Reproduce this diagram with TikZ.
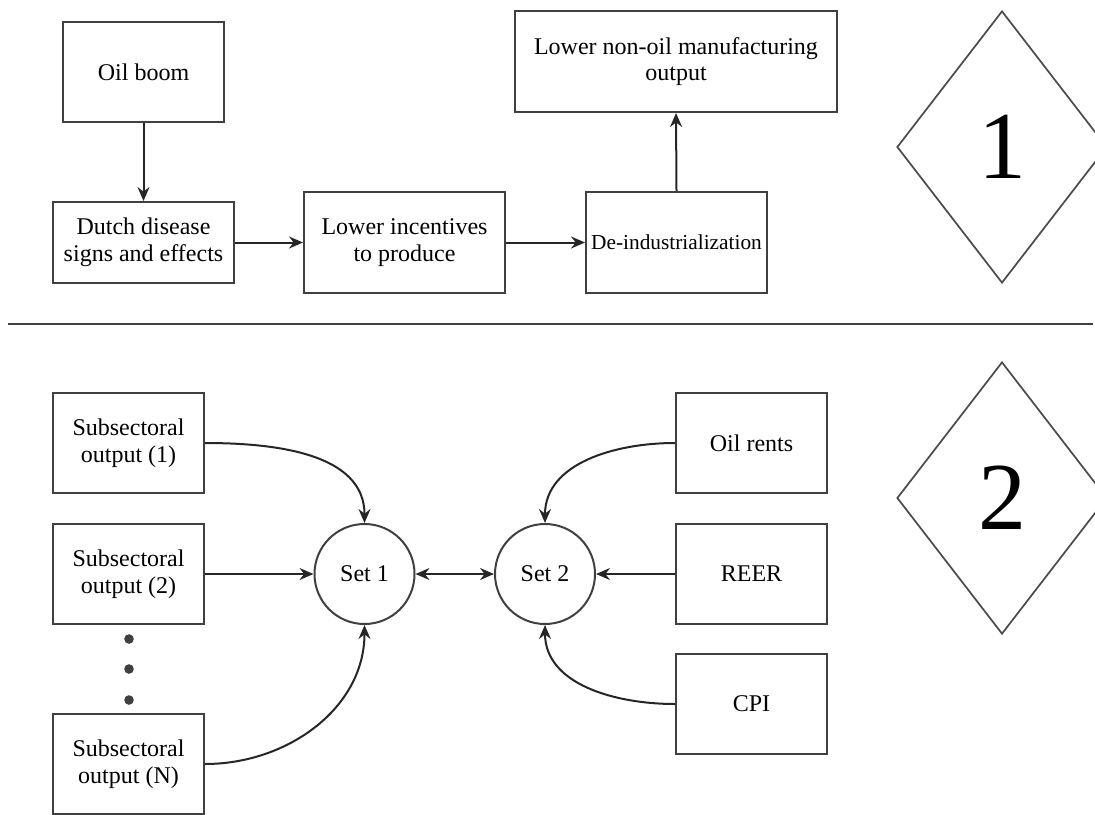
\documentclass[tikz,border=0pt]{standalone}
\usepackage{fontspec}
\setmainfont{Liberation Serif}
\usetikzlibrary{arrows.meta,shapes.geometric}

\begin{document}
\begin{tikzpicture}[x=0.75pt,y=0.75pt,
    line width=1.5pt,
    every node/.style={font=\fontsize{18}{20}\selectfont,align=center,inner sep=0pt},
    box/.style={draw=black!75,rectangle},
    setnode/.style={draw=black!75,circle,minimum size=75pt},
    bignum/.style={draw=black!70,line width=1.3pt,diamond,minimum width=157.5pt,minimum height=204pt,font=\fontsize{72}{72}\selectfont},
    arr/.style={draw=black!85,-{Stealth[length=10.5pt,width=9pt,inset=3.5pt]}},
    dblarr/.style={draw=black!85,{Stealth[length=10.5pt,width=9pt,inset=3.5pt]}-{Stealth[length=10.5pt,width=9pt,inset=3.5pt]}}]
  \useasboundingbox (0,0) rectangle (1095,-814);

  \node [box,minimum width=120.75pt,minimum height=75pt] (boom) at (143.5,-72) {Oil boom};
  \node [box,minimum width=135.75pt,minimum height=60.75pt] (dutch) at (143.5,-242.5) {Dutch disease\\signs and effects};
  \node [box,minimum width=150.75pt,minimum height=75.75pt] (incent) at (404.5,-242.5) {Lower incentives\\to produce};
  \node [box,minimum width=135.75pt,minimum height=75.75pt,font=\fontsize{16}{19}\selectfont] (deind) at (676.5,-242.5) {De-industrialization};
  \node [box,minimum width=241.5pt,minimum height=75.75pt] (nonoil) at (676,-61.5) {Lower non-oil manufacturing\\output};
  \node [bignum] (one) at (1002,-147) {1};

  \draw[arr] (boom.south) -- (dutch.north);
  \draw[arr] (dutch.east) -- (incent.west);
  \draw[arr] (incent.east) -- (deind.west);
  \draw[arr] (deind.north) -- (nonoil.south);

  \coordinate (sepL) at (8,-324);
  \coordinate (sepR) at (1093,-324);
  \draw[draw=black!75,line width=2pt] (sepL) -- (sepR);

  \node [box,minimum width=113.25pt,minimum height=75pt] (sub1) at (128.5,-443) {Subsectoral\\output (1)};
  \node [box,minimum width=113.25pt,minimum height=75pt] (sub2) at (128.5,-574) {Subsectoral\\output (2)};
  \node [box,minimum width=113.25pt,minimum height=75pt] (subN) at (128.5,-764) {Subsectoral\\output (N)};
  \foreach \y in {-639,-669,-700}
    \fill[black!75] (129,\y) circle[radius=3.6pt];

  \node [setnode] (set1) at (364.5,-574) {Set 1};
  \node [setnode] (set2) at (545,-574) {Set 2};

  \node [box,minimum width=113.25pt,minimum height=75pt] (rents) at (751.5,-443) {Oil rents};
  \node [box,minimum width=113.25pt,minimum height=75pt] (reer) at (751.5,-574) {REER};
  \node [box,minimum width=113.25pt,minimum height=75pt] (cpi) at (751.5,-704) {CPI};
  \node [bignum] (two) at (1002,-498) {2};

  \draw[arr] (sub1.east) to[out=0,in=90] (set1.north);
  \draw[arr] (sub2.east) -- (set1.west);
  \draw[arr] (subN.east) to[out=0,in=-90] (set1.south);
  \draw[dblarr] (set1.east) -- (set2.west);
  \draw[arr] (rents.west) to[out=180,in=90] (set2.north);
  \draw[arr] (reer.west) -- (set2.east);
  \draw[arr] (cpi.west) to[out=180,in=-90] (set2.south);

\end{tikzpicture}
\end{document}
